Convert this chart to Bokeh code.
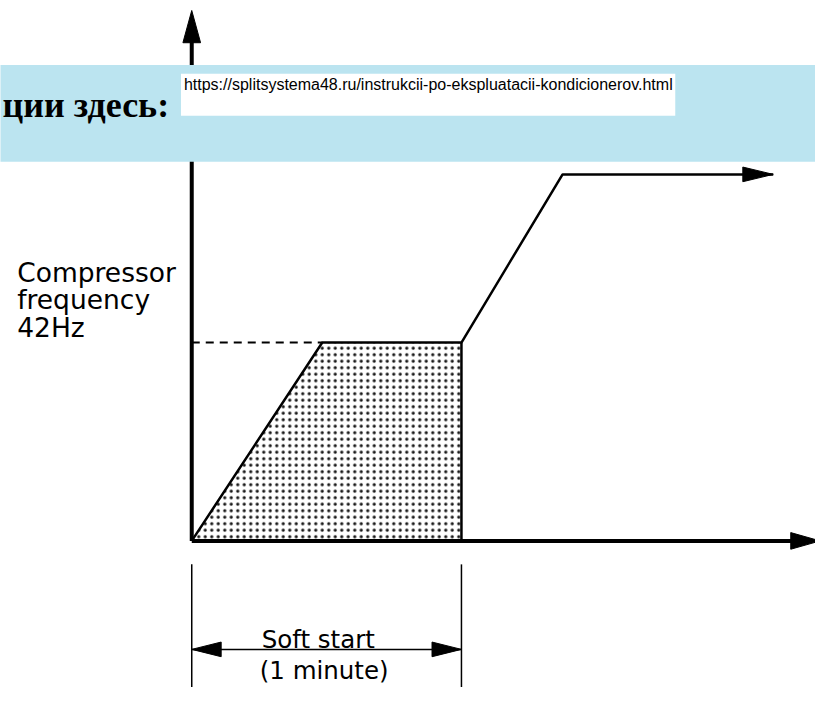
from bokeh.plotting import figure
from bokeh.models import Range1d, Label
from bokeh.embed import file_html
from bokeh.resources import INLINE

# ---------------- data ----------------
curve_time_min = [0.0, 0.484, 1.0, 1.375, 2.156]
curve_freq_hz = [0.0, 42.0, 42.0, 77.6, 77.6]
soft_start_min = 1.0
soft_start_freq_hz = 42.0
axis_time_end_min = 2.33
axis_freq_end_hz = 112.3
y_label_lines = ["Compressor", "frequency", "42Hz"]
bracket_lines = ["Soft start", "(1 minute)"]
banner_text = "ции здесь:"
banner_url = "https://splitsystema48.ru/instrukcii-po-ekspluatacii-kondicionerov.html"

# ---------------- layout helpers (reference pixels -> data) ----------------
X0, Y0 = 195.0, 553.0
PX_MIN = 275.0
PX_HZ = 203.0 / 42.0


def tx(X):
    return (X - X0) / PX_MIN


def fy(Y):
    return (Y0 - Y) / PX_HZ


def dxp(d):
    return d / PX_MIN


def dyp(d):
    return d / PX_HZ


def head(tip_x, tip_y, direction, length, half):
    if direction == "up":
        return ([tip_x, tip_x - dxp(half), tip_x + dxp(half)],
                [tip_y, tip_y - dyp(length), tip_y - dyp(length)])
    if direction == "right":
        return ([tip_x, tip_x - dxp(length), tip_x - dxp(length)],
                [tip_y, tip_y + dyp(half), tip_y - dyp(half)])
    if direction == "left":
        return ([tip_x, tip_x + dxp(length), tip_x + dxp(length)],
                [tip_y, tip_y + dyp(half), tip_y - dyp(half)])


p = figure(width=815, height=687,
           x_range=Range1d(tx(0), tx(831)), y_range=Range1d(fy(703), fy(0)),
           x_axis_type=None, y_axis_type=None,
           output_backend="svg", toolbar_location=None, min_border=0)
p.grid.visible = False
p.outline_line_color = None
p.background_fill_color = "white"
p.border_fill_color = "white"

# shaded soft-start area
fill_x = curve_time_min[:3] + [soft_start_min]
fill_y = curve_freq_hz[:3] + [0.0]
p.patch(fill_x, fill_y, fill_color="white", hatch_pattern="dot", hatch_color="black",
        hatch_scale=6.5, hatch_weight=1.0, hatch_alpha=0.9, line_color=None)

# dashed 42Hz reference
p.line([0.0, curve_time_min[1]], [soft_start_freq_hz, soft_start_freq_hz],
       line_color="black", line_width=2, line_dash="8 6")

# curve
p.line(curve_time_min, curve_freq_hz, line_color="black", line_width=2.5)
p.segment(x0=[soft_start_min], y0=[0.0], x1=[soft_start_min], y1=[soft_start_freq_hz],
          line_color="black", line_width=2.5)
hx, hy = head(curve_time_min[-1], curve_freq_hz[-1], "right", 31, 7.5)
p.patch(hx, hy, fill_color="black", line_color="black")

# axes
p.segment(x0=[0.0, 0.0], y0=[0.0, 0.0],
          x1=[0.0, axis_time_end_min - dxp(28)], y1=[axis_freq_end_hz - dyp(30), 0.0],
          line_color="black", line_width=4)
hx, hy = head(0.0, axis_freq_end_hz, "up", 33, 9)
p.patch(hx, hy, fill_color="black", line_color="black")
hx, hy = head(axis_time_end_min, 0.0, "right", 30, 8.5)
p.patch(hx, hy, fill_color="black", line_color="black")

# soft-start bracket
p.segment(x0=[0.0, soft_start_min], y0=[fy(577)] * 2, x1=[0.0, soft_start_min], y1=[fy(710)] * 2,
          line_color="black", line_width=1.5)
by = fy(664)
p.segment(x0=[0.0], y0=[by], x1=[soft_start_min], y1=[by], line_color="black", line_width=1.5)
hx, hy = head(0.0, by, "left", 30, 7.5)
p.patch(hx, hy, fill_color="black", line_color="black")
hx, hy = head(soft_start_min, by, "right", 30, 7.5)
p.patch(hx, hy, fill_color="black", line_color="black")

# banner
p.quad(left=[tx(-10)], right=[tx(840)], top=[fy(66)], bottom=[fy(165)],
       fill_color="#bbe4f0", line_color=None)
p.quad(left=[tx(184)], right=[tx(688)], top=[fy(75)], bottom=[fy(118)],
       fill_color="white", line_color=None)

p.add_layout(Label(x=tx(2), y=fy(107), text=banner_text, text_align="left",
                   text_baseline="alphabetic", text_font="Liberation Serif",
                   text_font_style="bold", text_font_size="36px", text_color="black"))
p.add_layout(Label(x=tx(187), y=fy(77), text=banner_url, text_align="left",
                   text_baseline="top", text_font="Liberation Sans",
                   text_font_size="16px", text_color="black"))

# y label
for line, base in zip(y_label_lines, [278, 306, 335]):
    p.add_layout(Label(x=tx(17), y=fy(base), text=line, text_align="left",
                       text_baseline="alphabetic", text_font="DejaVu Sans",
                       text_font_size="26.5px", text_color="black"))

# bracket label
for line, cx, base in zip(bracket_lines, [324, 330], [654, 686]):
    p.add_layout(Label(x=tx(cx), y=fy(base), text=line, text_align="center",
                       text_baseline="alphabetic", text_font="DejaVu Sans",
                       text_font_size="24.5px", text_color="black"))

open("out.html", "w").write(file_html(p, INLINE))
